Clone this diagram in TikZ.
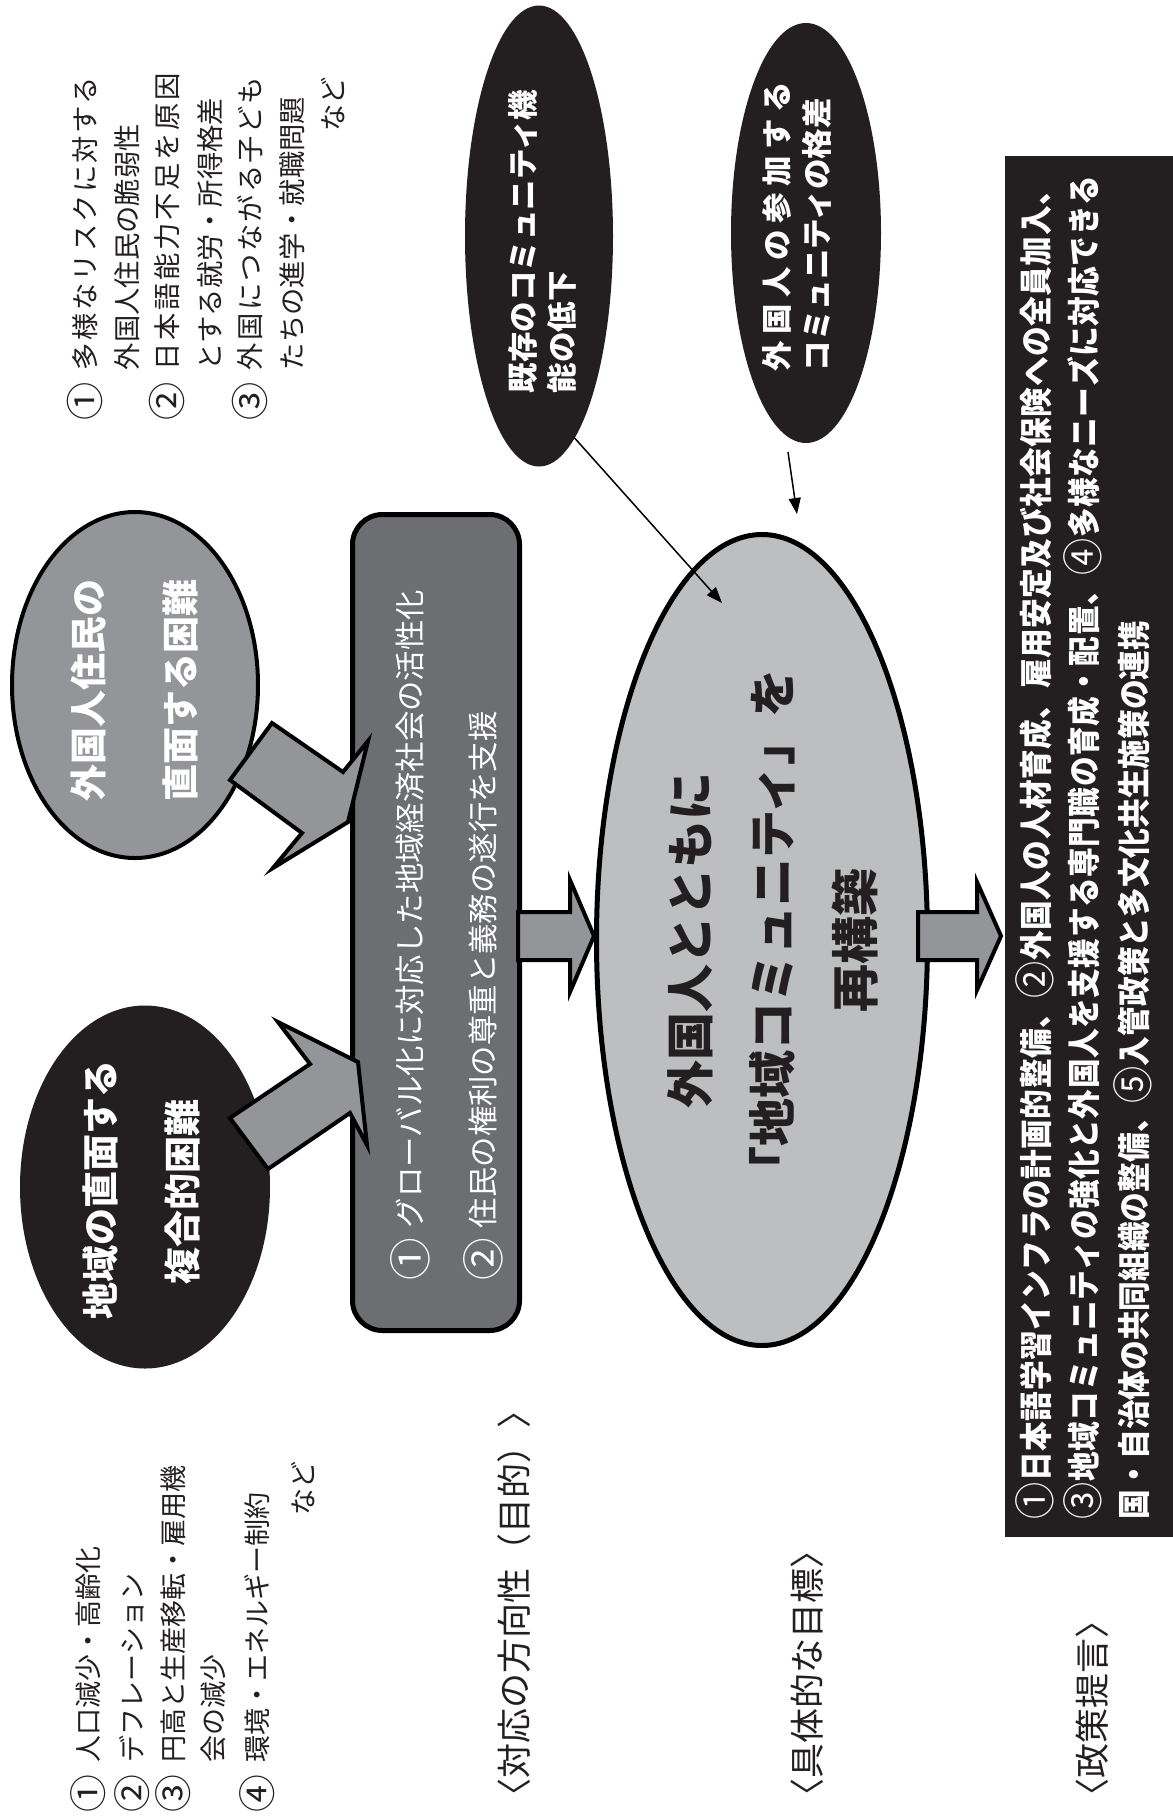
\documentclass[tikz,border=0pt]{standalone}
\usepackage{fontspec}
\usepackage{graphicx}
\setmainfont{Noto Sans CJK JP}
\newfontfamily\condjp[FakeStretch=0.9]{Noto Sans CJK JP}
\usetikzlibrary{shapes.geometric,arrows.meta}
\definecolor{inkblack}{HTML}{231F20}
\definecolor{midgray}{HTML}{939598}
\definecolor{boxgray}{HTML}{6D6E71}
\definecolor{lightgray}{HTML}{BCBEC0}
\makeatletter
\def\spreadtext#1{\spr@first#1\relax}
\def\spr@first#1{#1\spr@rest}
\def\spr@rest#1{\ifx\relax#1\else\hfill#1\expandafter\spr@rest\fi}
\makeatother
\newcommand\jline[2]{\makebox[#1][s]{\spreadtext{#2}}}
\newcommand\circnum[1]{\raisebox{-0.08em}{\scalebox{1.4}{#1}}}
\def\pone{\raisebox{-0.06em}{\scalebox{1.25}{\mdseries ①}}}
\def\ptwo{\raisebox{-0.06em}{\scalebox{1.25}{\mdseries ②}}}
\def\pthree{\raisebox{-0.06em}{\scalebox{1.25}{\mdseries ③}}}
\def\pfour{\raisebox{-0.06em}{\scalebox{1.25}{\mdseries ④}}}
\def\pfive{\raisebox{-0.06em}{\scalebox{1.25}{\mdseries ⑤}}}
\begin{document}
\begin{tikzpicture}[x=1pt,y=-1pt,
  rt/.style={rotate=90, inner sep=0pt, outer sep=0pt, text=inkblack},
  listA/.style={rt, font=\fontsize{27.3}{30}\selectfont},
  listB/.style={rt, font=\fontsize{27}{30}\selectfont},
  labeltxt/.style={rt, font=\fontsize{35}{38}\selectfont},
  whitebig/.style={rt, text=white, font=\bfseries\fontsize{37}{40}\selectfont},
  whitemid/.style={rt, text=white, font=\bfseries\fontsize{30.5}{34}\selectfont},
  boxtxt/.style={rt, text=white, font=\fontsize{30.4}{34}\selectfont},
  centertxt/.style={rt, text=inkblack, font=\bfseries\fontsize{48}{52}\selectfont},
  poltxt/.style={rt, text=white, font=\condjp\bfseries\fontsize{33}{36}\selectfont},
  blackell/.style={ellipse, fill=inkblack, inner sep=0pt, outer sep=0pt},
  callout/.style={fill=midgray, draw=black, line width=4pt, line join=miter},
  thinarrow/.style={draw=black, line width=1.5pt, -{Triangle[length=16pt,width=12pt]}}
]
\fill[white] (0,0) rectangle (1173,1816);
\useasboundingbox (0,0) rectangle (1173,1816);

% ---------- top-right list ----------
\node[listA] (n1) at (85,401) {\circnum{①}};
\node[listA, anchor=west] (l1) at (85,370) {\jline{293pt}{多様なリスクに対する}};
\node[listA, anchor=west] (l2) at (127,370) {外国人住民の脆弱性};
\node[listA] (n2) at (167,401) {\circnum{②}};
\node[listA, anchor=west] (l3) at (167,370) {\jline{297pt}{日本語能力不足を原因}};
\node[listA, anchor=west] (l4) at (210,370) {とする就労・所得格差};
\node[listA] (n3) at (250,401) {\circnum{③}};
\node[listA, anchor=west] (l5) at (250,370) {\jline{293pt}{外国につながる子ども}};
\node[listA, anchor=west] (l6) at (292,370) {たちの進学・就職問題};
\node[listA, anchor=east] (l7) at (333,77) {など};

% ---------- bottom-left list ----------
\node[listB] (m1) at (88,1794) {\circnum{①}};
\node[listB, anchor=west] (k1) at (88,1762) {人口減少・高齢化};
\node[listB] (m2) at (132,1794) {\circnum{②}};
\node[listB, anchor=west] (k2) at (132,1762) {デフレーション};
\node[listB] (m3) at (173,1794) {\circnum{③}};
\node[listB, anchor=west] (k3) at (173,1762) {円高と生産移転・雇用機};
\node[listB, anchor=west] (k4) at (213,1762) {会の減少};
\node[listB] (m4) at (257,1794) {\circnum{④}};
\node[listB, anchor=west] (k5) at (257,1762) {環境・エネルギー制約};
\node[listB, anchor=east] (k6) at (303,1461) {など};

% ---------- section labels ----------
\node[labeltxt, anchor=west] (h1) at (514,1813) {〈対応の方向性（目的）〉};
\node[labeltxt, anchor=west] (h2) at (807,1813) {〈具体的な目標〉};
\node[labeltxt, anchor=west] (h3) at (1092,1813) {〈政策提言〉};

% ---------- shapes ----------
\node[ellipse, fill=midgray, draw=black, line width=4pt, inner sep=0pt, outer sep=0pt,
      minimum width=246pt, minimum height=346pt] (eg) at (135,685) {};
\node[blackell, minimum width=250pt, minimum height=363pt] (eb) at (145,1187) {};
\node[draw=black, line width=5pt, fill=boxgray, rounded corners=30pt, inner sep=0pt, outer sep=0pt,
      minimum width=167pt, minimum height=816pt] (bx) at (436,922.5) {};
\node[ellipse, draw=black, line width=5pt, fill=lightgray, inner sep=0pt, outer sep=0pt,
      minimum width=331pt, minimum height=811pt] (c) at (762,940) {};
\node[blackell, minimum width=148pt, minimum height=461pt] (e1) at (539,236) {};
\node[blackell, minimum width=150pt, minimum height=420pt] (e2) at (806,233) {};
\node[fill=inkblack, inner sep=0pt, outer sep=0pt, minimum width=168pt, minimum height=1381pt] (pb) at (1089,846.5) {};

% ---------- callout arrows into the box ----------
\filldraw[callout] (272,723) -- (343,772) -- (368,741) -- (348,822) -- (273,868) -- (302,833) -- (230,780) -- cycle;
\filldraw[callout] (230,1118) -- (310,1064) -- (278,1022) -- (358,1062) -- (367,1145) -- (350,1113) -- (268,1169) -- cycle;

% ---------- block arrows ----------
\filldraw[callout] (518,912) -- (570,912) -- (570,880) -- (594,936) -- (570,992) -- (570,960) -- (518,960) -- cycle;
\filldraw[callout] (918,912) -- (977,912) -- (977,882) -- (1001,936) -- (977,990) -- (977,960) -- (918,960) -- cycle;

% ---------- thin connectors ----------
\coordinate (t1) at (722,603);
\coordinate (a2s) at (788,452);
\coordinate (a2e) at (797,514);
\draw[thinarrow] (e1.-80) -- (t1);
\draw[thinarrow] (a2s) -- (a2e);

% ---------- texts in shapes ----------
\node[whitebig] (egt1) at (88,690) {外国人住民の};
\node[whitebig] (egt2) at (180,690) {直面する困難};
\node[whitebig] (ebt1) at (100,1190) {地域の直面する};
\node[whitebig] (ebt2) at (182,1192) {複合的困難};

\node[whitemid, anchor=west] (e1t1) at (523,393) {既存のコミュニティ機};
\node[whitemid, anchor=west] (e1t2) at (562,393) {能の低下};
\node[whitemid, anchor=west] (e2t1) at (777,371) {\jline{289pt}{外国人の参加する}};
\node[whitemid, anchor=west] (e2t2) at (817,371) {コミュニティの格差};

\node[boxtxt] (bn1) at (410,1259) {\circnum{①}};
\node[boxtxt, anchor=west] (bt1) at (410,1228) {グローバル化に対応した地域経済社会の活性化};
\node[boxtxt] (bn2) at (483,1259) {\circnum{②}};
\node[boxtxt, anchor=west] (bt2) at (483,1228) {住民の権利の尊重と義務の遂行を支援};

\node[centertxt] (ct1) at (690,940) {外国人とともに};
\node[centertxt] (ct2) at (772,932) {「地域コミュニティ」を};
\node[centertxt] (ct3) at (855,940) {再構築};

\node[poltxt, anchor=west] (p1) at (1035,1519) {\jline{1343pt}{\pone 日本語学習インフラの計画的整備、\ptwo 外国人の人材育成、雇用安定及び社会保険への全員加入、}};
\node[poltxt, anchor=west] (p2) at (1083,1519) {\jline{1343pt}{\pthree 地域コミュニティの強化と外国人を支援する専門職の育成・配置、\pfour 多様なニーズに対応できる}};
\node[poltxt, anchor=west] (p3) at (1133,1519) {国・自治体の共同組織の整備、\pfive 入管政策と多文化共生施策の連携};
\end{tikzpicture}
\end{document}
